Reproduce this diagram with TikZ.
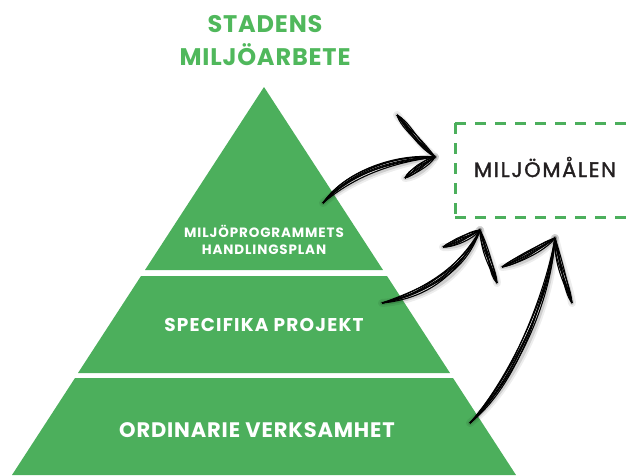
\documentclass[tikz,border=0pt]{standalone}
\usepackage{fontspec}
\setmainfont{Poppins}
\usetikzlibrary{calc}
\definecolor{pgreen}{RGB}{76,175,92}
\definecolor{tgreen}{RGB}{80,184,92}
\definecolor{dark}{RGB}{35,31,32}
\tikzset{
  tier/.style={fill=pgreen, draw=none},
  tiertext/.style={text=white, align=center, inner sep=0pt},
  titletext/.style={text=tgreen, font=\bfseries\fontsize{24}{28}\selectfont\addfontfeature{LetterSpace=3.5}, inner sep=0pt},
  goalline/.style={draw=pgreen, line width=3pt, dash pattern=on 10.5pt off 9.5pt},
  sk/.style={line width=1.1pt, black},
  skshadow/.style={line width=4pt, black, opacity=0.13, line cap=round},
}
\newcommand\skcurve[4]{%
  \foreach \dx/\dy in {0/0,4/-3,-4/3,5/4,-2.5/-4.5,1.5/1.5,-5/-1}{%
    \draw[sk] (#1) .. controls ($(#2)+(\dx,\dy)$) and ($(#3)+(-\dy,\dx)$) .. (#4);
  }}
\newcommand\skshadow[4]{%
  \begin{scope}[shift={(4,5)}]
    \draw[skshadow] (#1) .. controls (#2) and (#3) .. (#4);
    \draw[skshadow, line width=8pt, opacity=0.07] (#1) .. controls (#2) and (#3) .. (#4);
  \end{scope}}
\begin{document}
\begin{tikzpicture}[x=1pt,y=-1pt]
\clip (0,0) rectangle (635,475);
\useasboundingbox (0,0) rectangle (635,475);
% pyramid tiers
\fill[tier] (264,87) -- (383,270) -- (145,270) -- cycle;
\fill[tier] (141,276) -- (387,276) -- (450,373) -- (78,373) -- cycle;
\fill[tier] (75,378) -- (453,378) -- (516,475) -- (12,475) -- cycle;
% titles
\node[titletext] (title1) at (265,24) {STADENS};
\node[titletext] (title2) at (265,55) {MILJÖARBETE};
% tier texts
\node[tiertext, font=\bfseries\fontsize{13.5}{17.5}\selectfont\addfontfeature{LetterSpace=6.5}] (tier1) at (264,240) {MILJÖPROGRAMMETS\\HANDLINGSPLAN};
\node[tiertext, font=\bfseries\fontsize{18.5}{22}\selectfont\addfontfeature{LetterSpace=6.5}] (tier2) at (264,325) {SPECIFIKA PROJEKT};
\node[tiertext, font=\bfseries\fontsize{21}{24}\selectfont\addfontfeature{LetterSpace=4}] (tier3) at (257,430) {ORDINARIE VERKSAMHET};
% goals box
\coordinate (gtl) at (455,123); \coordinate (gbl) at (455,217);
\coordinate (gtr) at (660,123); \coordinate (gbr) at (660,217);
\draw[goalline] (gtl) -- (gtr);
\draw[goalline] (gtl) -- (gbl);
\draw[goalline] (gbl) -- (gbr);
\node[text=dark, font=\fontsize{21}{24}\selectfont\addfontfeature{LetterSpace=8,FakeBold=1.5}, inner sep=0pt] (goals) at (545,167) {MILJÖMÅLEN};
% arrow coordinates
\coordinate (a1s) at (323,203); \coordinate (a1t) at (435,157);
\coordinate (a2s) at (382,303); \coordinate (a2t) at (480,230);
\coordinate (a3s) at (470,423); \coordinate (a3t) at (555,238);
\coordinate (b1u) at (397,115); \coordinate (b1d) at (405,178);
\coordinate (b2l) at (443,247); \coordinate (b2d) at (497,283);
\coordinate (b3l) at (502,267); \coordinate (b3d) at (572,303);
% shadows
\skshadow{a1s}{350,172}{395,158}{a1t}
\skshadow{a1t}{418,142}{405,124}{b1u}
\skshadow{a1t}{425,163}{412,172}{b1d}
\skshadow{a2s}{420,295}{462,272}{a2t}
\skshadow{a2t}{468,236}{455,243}{b2l}
\skshadow{a2t}{485,250}{492,270}{b2d}
\skshadow{a3s}{512,382}{548,300}{a3t}
\skshadow{a3t}{540,248}{518,260}{b3l}
\skshadow{a3t}{558,262}{566,285}{b3d}
% arrows
\skcurve{a1s}{350,172}{395,158}{a1t}
\skcurve{a1t}{418,142}{405,124}{b1u}
\skcurve{a1t}{425,163}{412,172}{b1d}
\skcurve{a2s}{420,295}{462,272}{a2t}
\skcurve{a2t}{468,236}{455,243}{b2l}
\skcurve{a2t}{485,250}{492,270}{b2d}
\skcurve{a3s}{512,382}{548,300}{a3t}
\skcurve{a3t}{540,248}{518,260}{b3l}
\skcurve{a3t}{558,262}{566,285}{b3d}
\end{tikzpicture}
\end{document}
